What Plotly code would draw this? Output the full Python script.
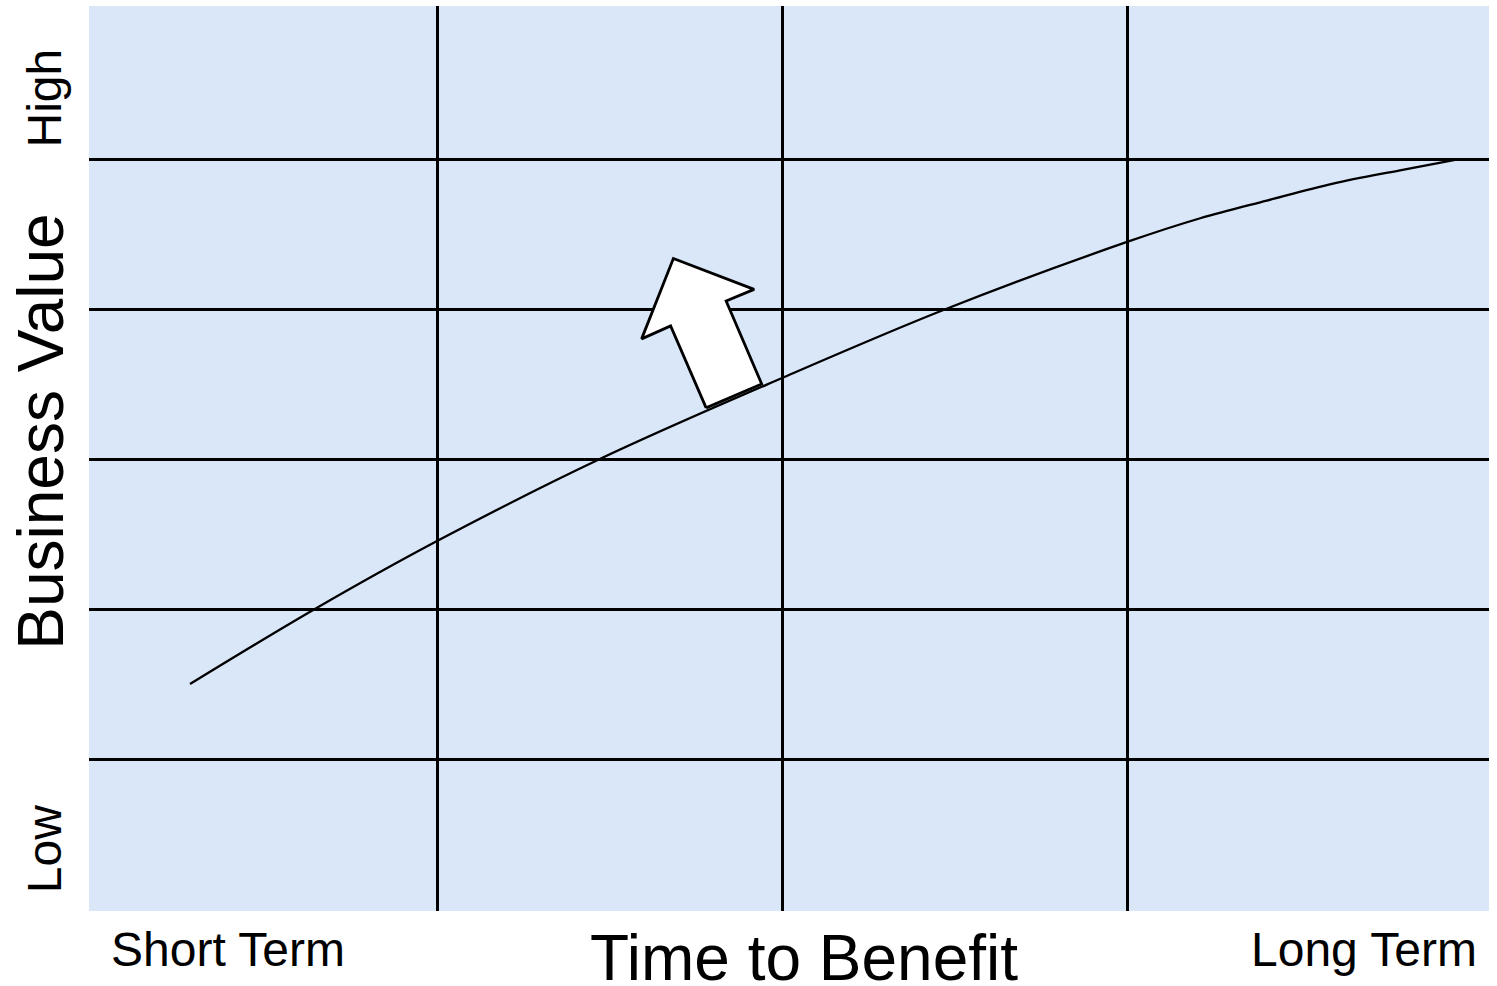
import plotly.graph_objects as go

# Grid positions (columns/rows of the value-time matrix)
col_lines = [1, 2, 3]
row_lines = [1, 2, 3, 4, 5]

# Curve: time to benefit (x) vs business value (y)
curve_x = [0.284, 0.646, 1.0, 1.472, 2.0, 2.475, 3.0, 3.212, 3.405, 3.597, 3.791, 3.962]
curve_y = [1.5, 2.0, 2.453, 3.0, 3.54, 4.0, 4.447, 4.605, 4.723, 4.836, 4.925, 5.0]

# Block arrow outline (base on the curve, pointing up-left)
arrow_x = [1.780, 1.677, 1.593, 1.685, 1.919, 1.838, 1.941, 1.780]
arrow_y = [3.341, 3.887, 3.801, 4.337, 4.131, 4.053, 3.500, 3.341]

x_range = [-0.0087, 4.049]
y_range = [-0.013, 6.02]

FONT = "Liberation Sans, Arial, sans-serif"
BG = "#DAE7F9"

fig = go.Figure()
fig.add_trace(go.Scatter(x=curve_x, y=curve_y, mode="lines",
                         line=dict(color="black", width=2.3, shape="spline", smoothing=1.0),
                         hoverinfo="skip", showlegend=False))
fig.add_trace(go.Scatter(x=arrow_x, y=arrow_y, mode="lines", fill="toself",
                         fillcolor="white", line=dict(color="black", width=2.8),
                         hoverinfo="skip", showlegend=False))

fig.update_xaxes(range=x_range, tickvals=col_lines, showticklabels=False,
                 showgrid=True, gridcolor="black", gridwidth=2.5,
                 zeroline=False, showline=False, ticks="")
fig.update_yaxes(range=y_range, tickvals=row_lines, showticklabels=False,
                 showgrid=True, gridcolor="black", gridwidth=2.5,
                 zeroline=False, showline=False, ticks="")

anns = [
    dict(text="High", x=-0.032, y=0.898, textangle=-90, size=48),
    dict(text="Low", x=-0.032, y=0.0685, textangle=-90, size=48),
    dict(text="Business Value", x=-0.034, y=0.530, textangle=-90, size=64),
    dict(text="Short Term", x=(228 - 89) / 1400, y=-0.043, textangle=0, size=48),
    dict(text="Long Term", x=(1364 - 89) / 1400, y=-0.043, textangle=0, size=48),
    dict(text="Time to Benefit", x=(804 - 89) / 1400, y=-0.052, textangle=0, size=64),
]
for a in anns:
    extra = {}
    if a["text"] == "Time to Benefit":
        extra = dict(height=60, valign="middle")
    fig.add_annotation(text=a["text"], x=a["x"], y=a["y"], xref="paper", yref="paper",
                       textangle=a["textangle"], showarrow=False,
                       xanchor="center", yanchor="middle",
                       font=dict(family=FONT, size=a["size"], color="black"), **extra)

fig.update_layout(width=1497, height=986,
                  margin=dict(l=89, r=8, t=6, b=75),
                  plot_bgcolor=BG, paper_bgcolor="white",
                  showlegend=False)

fig.write_html("out.html", config={"displayModeBar": False})
